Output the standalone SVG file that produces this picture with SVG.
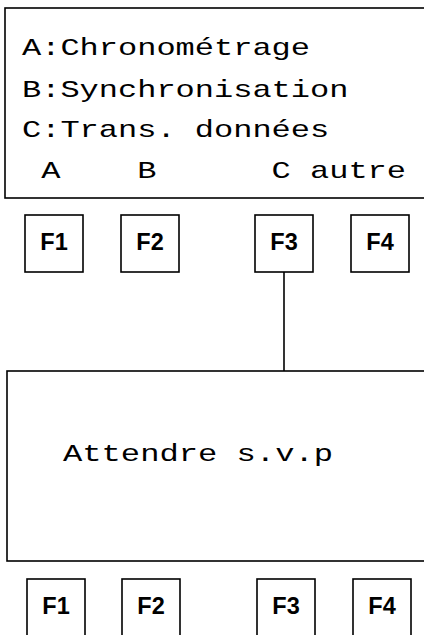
<svg xmlns="http://www.w3.org/2000/svg" width="424" height="635" viewBox="0 0 424 635">
<style>
.box{fill:#fff;stroke:#000;stroke-width:1.6}
.mono{font-family:"Liberation Mono","Courier New",monospace;font-size:24px;fill:#000}
.key{font-family:"Liberation Sans",Arial,sans-serif;font-size:23.5px;font-weight:bold;fill:#000;text-anchor:middle}
.conn{stroke:#000;stroke-width:1.6;fill:none}
</style>
<rect width="424" height="635" fill="#fff"/>
<g id="connectors">
<line class="conn" x1="284" y1="272" x2="284" y2="371"/>
</g>
<g id="menu-screen">
<rect class="box" x="5" y="8" width="430" height="190"/>
<text class="mono" x="22" y="55" textLength="288" lengthAdjust="spacingAndGlyphs">A:Chronométrage</text>
<text class="mono" x="22" y="96.5" textLength="326.4" lengthAdjust="spacingAndGlyphs">B:Synchronisation</text>
<text class="mono" x="22" y="137" textLength="307.2" lengthAdjust="spacingAndGlyphs">C:Trans. données</text>
<text class="mono" x="22" y="177.5" xml:space="preserve" textLength="384" lengthAdjust="spacingAndGlyphs"> A    B      C autre</text>
</g>
<g id="top-F1"><rect class="box" x="25" y="215" width="58" height="57"/><text class="key" x="54" y="250">F1</text></g>
<g id="top-F2"><rect class="box" x="121" y="215" width="58" height="57"/><text class="key" x="150" y="250">F2</text></g>
<g id="top-F3"><rect class="box" x="255" y="215" width="58" height="57"/><text class="key" x="284" y="250">F3</text></g>
<g id="top-F4"><rect class="box" x="351" y="215" width="58" height="57"/><text class="key" x="380" y="250">F4</text></g>
<g id="wait-screen">
<rect class="box" x="7" y="371" width="430" height="190"/>
<text class="mono" x="63" y="460.5" textLength="270" lengthAdjust="spacingAndGlyphs">Attendre s.v.p</text>
</g>
<g id="bottom-F1"><rect class="box" x="27" y="579" width="58" height="70"/><text class="key" x="56" y="613.5">F1</text></g>
<g id="bottom-F2"><rect class="box" x="122" y="579" width="58" height="70"/><text class="key" x="151" y="613.5">F2</text></g>
<g id="bottom-F3"><rect class="box" x="257" y="579" width="58" height="70"/><text class="key" x="286" y="613.5">F3</text></g>
<g id="bottom-F4"><rect class="box" x="353" y="579" width="58" height="70"/><text class="key" x="382" y="613.5">F4</text></g>
</svg>
